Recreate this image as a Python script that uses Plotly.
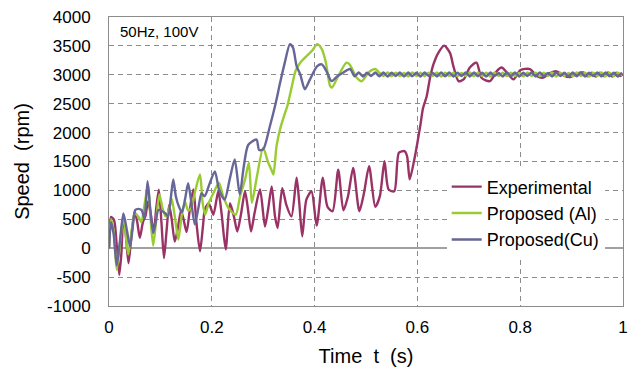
import plotly.graph_objects as go

# ---------------- data ----------------
t_exp = [0.000, 0.004, 0.010, 0.015, 0.020, 0.024, 0.028, 0.033, 0.038, 0.044,
         0.050, 0.055, 0.060, 0.066, 0.071, 0.076, 0.081, 0.087, 0.092, 0.097,
         0.102, 0.107, 0.112, 0.117, 0.122, 0.128, 0.134, 0.140, 0.145, 0.151,
         0.157, 0.164, 0.170, 0.177, 0.183, 0.1865, 0.194, 0.203, 0.2126, 0.219,
         0.227, 0.2354, 0.243, 0.2496, 0.257, 0.2646, 0.270, 0.2763, 0.283, 0.2938,
         0.3035, 0.310, 0.3165, 0.323, 0.328, 0.337, 0.345, 0.355, 0.365, 0.370,
         0.376, 0.384, 0.394, 0.404, 0.416, 0.425, 0.435, 0.446, 0.456, 0.465,
         0.475, 0.487, 0.496, 0.506, 0.518, 0.527, 0.536, 0.544, 0.555, 0.564,
         0.575, 0.580, 0.585, 0.594, 0.600, 0.606, 0.611, 0.618, 0.6245, 0.631,
         0.6407, 0.652, 0.6634, 0.670, 0.680, 0.690, 0.702, 0.715, 0.725, 0.741,
         0.754, 0.764, 0.774, 0.787, 0.800, 0.819, 0.832, 0.845, 0.858, 0.871,
         0.884, 0.897, 0.910, 0.923, 0.931, 0.939, 0.947, 0.955, 0.963, 0.971,
         0.979, 0.987, 0.995, 1.000]
v_exp = [0, 540, 480, 50, -460, -100, 580, 200, -260, 250,
         630, 450, 180, 450, 560, 810, 600, 280, 700, 1010,
         450, -170, 300, 750, 500, 115, 350, 650, 500, 280,
         650, 1015, 450, -55, 400, 670, 780, 580, 985, 600,
         -20, 780, 550, 290, 600, 985, 700, 290, 600, 1015,
         375, 700, 1070, 550, 350, 1040, 750, 550, 1218, 800,
         205, 840, 985, 390, 1218, 717, 640, 1360, 655, 900,
         1390, 640, 950, 1420, 715, 900, 1505, 1015, 985, 1650,
         1680, 1590, 1190, 1535, 1825, 2140, 2425, 2625, 2945, 3175,
         3380, 3505, 3380, 3150, 2890, 2920, 3125, 3210, 2945, 2890,
         3060, 3125, 3040, 2920, 3080, 3100, 2980, 2950, 3030, 3060,
         2990, 2960, 3020, 3040, 2975, 3035, 2970, 3035, 2975, 3040,
         2970, 3035, 2980, 3010]

t_al = [0.000, 0.004, 0.009, 0.015, 0.021, 0.028, 0.033, 0.0375, 0.044, 0.050,
        0.057, 0.063, 0.069, 0.076, 0.081, 0.086, 0.092, 0.098, 0.104, 0.110,
        0.116, 0.122, 0.128, 0.135, 0.142, 0.148, 0.154, 0.160, 0.168, 0.177,
        0.182, 0.187, 0.194, 0.203, 0.214, 0.222, 0.232, 0.2465, 0.255, 0.265,
        0.272, 0.278, 0.287, 0.300, 0.309, 0.317, 0.320, 0.326, 0.334, 0.341,
        0.347, 0.356, 0.363, 0.372, 0.385, 0.395, 0.405, 0.414, 0.422, 0.430,
        0.434, 0.446, 0.462, 0.468, 0.482, 0.492, 0.505, 0.518]
v_al = [0, 500, 300, -370, 50, 560, 200, -110, 300, 600,
        550, 450, 750, 1100, 500, 45, 500, 930, 700, 550,
        650, 850, 550, 150, 600, 800, 650, 700, 1000, 1275,
        800, 580, 780, 950, 1130, 900, 700, 580, 900, 1200,
        1480, 785, 1200, 1740, 1500, 1335, 1275, 1770, 2100, 2300,
        2460, 2810, 3070, 3210, 3330, 3415, 3530, 3445, 3210, 2810,
        2780, 2980, 3210, 3180, 2950, 2890, 3040, 3100]
v_al_ss = [3035, 2980, 3040, 2975, 3035, 2980, 3030, 2970, 3040, 2980,
           3035, 2975, 3035, 2980, 3040, 2970, 3035, 2980, 3035, 2975,
           3030, 2980, 3040, 2975, 3035, 2980, 3035, 2970, 3040, 2980,
           3035, 2975, 3035, 2980, 3030, 2970, 3040, 2980, 3035, 2975,
           3035, 2980, 3040, 2970, 3035, 2980, 3030, 2975, 3040, 2980,
           3035, 2970, 3035, 2980, 3040, 2975, 3035, 2980, 3035, 2980]

t_cu = [0.000, 0.004, 0.009, 0.015, 0.021, 0.028, 0.035, 0.041, 0.046, 0.051,
        0.057, 0.0635, 0.069, 0.075, 0.080, 0.086, 0.091, 0.096, 0.104, 0.110,
        0.115, 0.120, 0.125, 0.130, 0.136, 0.142, 0.148, 0.154, 0.160, 0.167,
        0.174, 0.180, 0.186, 0.195, 0.206, 0.214, 0.225, 0.235, 0.2446, 0.2544,
        0.262, 0.271, 0.287, 0.292, 0.300, 0.313, 0.323, 0.333, 0.342, 0.352,
        0.358, 0.365, 0.372, 0.381, 0.391, 0.405, 0.414, 0.423, 0.433, 0.445,
        0.456, 0.469, 0.478, 0.486, 0.494, 0.502, 0.510, 0.518]
v_cu = [0, 450, 250, -300, 100, 600, 300, 30, 350, 660,
        680, 660, 520, 1160, 700, 260, 450, 660, 640, 600,
        550, 850, 1190, 900, 720, 620, 850, 1125, 800, 410,
        700, 950, 900, 1100, 1330, 1015, 840, 1200, 1535, 930,
        1400, 1790, 1880, 1700, 1710, 2110, 2460, 2865, 3210, 3530,
        3470, 3150, 3010, 2750, 2920, 3150, 3180, 3065, 2890, 2980,
        3040, 3100, 2975, 3040, 2970, 3035, 2980, 3040]
v_cu_ss = [2975, 3040, 2970, 3035, 2980, 3040, 2970, 3040, 2975, 3035,
           2970, 3040, 2980, 3030, 2970, 3040, 2975, 3040, 2970, 3035,
           2980, 3040, 2970, 3040, 2975, 3035, 2970, 3040, 2980, 3030,
           2970, 3040, 2975, 3040, 2970, 3035, 2980, 3040, 2970, 3040,
           2975, 3030, 2970, 3040, 2980, 3035, 2970, 3040, 2975, 3040,
           2970, 3035, 2980, 3040, 2970, 3040, 2975, 3035, 2970, 3040]

ss_start, ss_step = 0.526, 0.008
t_al_ss = [round(ss_start + ss_step * i, 3) for i in range(len(v_al_ss))]
t_cu_ss = [round(ss_start + ss_step * i, 3) for i in range(len(v_cu_ss))]

x_ticks = [0, 0.2, 0.4, 0.6, 0.8, 1]
x_tick_text = ["0", "0.2", "0.4", "0.6", "0.8", "1"]
y_ticks = [-1000, -500, 0, 500, 1000, 1500, 2000, 2500, 3000, 3500, 4000]
y_tick_text = ["-1000", "-500", "0", "500", "1000", "1500", "2000", "2500",
               "3000", "3500", "4000"]

names = ["Experimental", "Proposed (Al)", "Proposed(Cu)"]
colors = ["#993366", "#99CC33", "#666699"]

# ---------------- figure ----------------
fig = go.Figure()
series = [(t_exp, v_exp), (t_al + t_al_ss, v_al + v_al_ss), (t_cu + t_cu_ss, v_cu + v_cu_ss)]
for (tx, vy), nm, col in zip(series, names, colors):
    fig.add_trace(go.Scatter(x=tx, y=vy, mode="lines", name=nm, legendgroup=nm,
                             line=dict(color=col, width=2.4, shape="spline", smoothing=0.7)))

font_family = "Liberation Sans, Arial, sans-serif"
grid = dict(showgrid=True, gridcolor="#8c8c8c", gridwidth=1, griddash="5px,4px",
            showline=True, linecolor="#8c8c8c", linewidth=1, mirror=True,
            ticks="", automargin=False)

fig.update_layout(
    width=635, height=371,
    margin=dict(l=109, r=12, t=17, b=65),
    paper_bgcolor="white", plot_bgcolor="white",
    font=dict(family=font_family, color="black", size=17),
    showlegend=True,
    legend=dict(x=0.657, y=0.476, xanchor="left", yanchor="top",
                bgcolor="white", borderwidth=0, font=dict(size=18),
                tracegroupgap=7, traceorder="normal"),
    annotations=[dict(text="50Hz, 100V", x=0.018, y=0.985, xref="paper", yref="paper",
                      xanchor="left", yanchor="top", showarrow=False,
                      font=dict(size=15))],
)
fig.update_xaxes(range=[0, 1], tickvals=x_ticks, ticktext=x_tick_text,
                 zeroline=False, ticklabelstandoff=6,
                 title=dict(text="Time\u00a0\u00a0t\u00a0\u00a0(s)", font=dict(size=20), standoff=12),
                 **grid)
fig.update_yaxes(range=[-1000, 4000], tickvals=y_ticks, ticktext=y_tick_text,
                 zeroline=True, zerolinecolor="#a0a0a0", zerolinewidth=2,
                 ticklabelstandoff=14,
                 title=dict(text="Speed\u00a0\u00a0(rpm)", font=dict(size=20), standoff=12),
                 **grid)

fig.write_html("out.html", config={"displayModeBar": False},
               post_script="document.body.style.margin='0';document.body.style.overflow='hidden';")
